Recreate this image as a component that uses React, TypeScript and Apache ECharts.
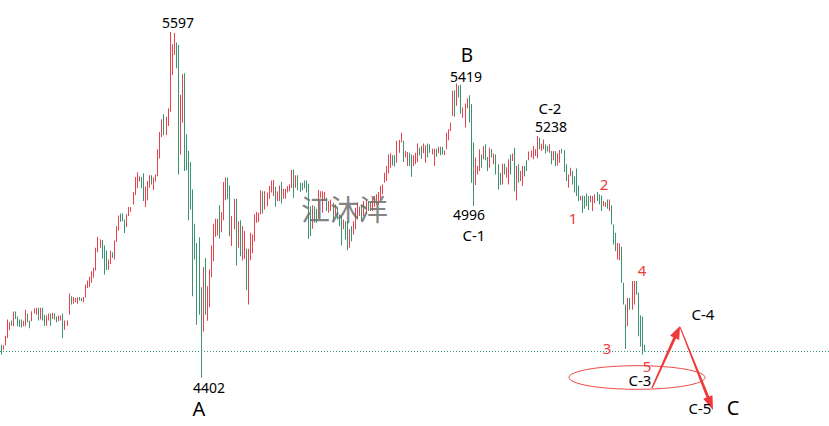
import React, { useEffect, useRef } from 'react';
import * as echarts from 'echarts';

// Bar highs / lows (one entry per bar, left to right)
const highs = [
  4516, 4514, 4547, 4603, 4594, 4600, 4631, 4631, 4614, 4603, 4603, 4599, 4637, 4624, 4600, 4632, 4641, 4643, 4644, 4644,
  4644, 4620, 4617, 4624, 4624, 4627, 4624, 4614, 4617, 4617, 4624, 4600, 4600, 4693, 4684, 4681, 4678, 4680, 4681, 4678,
  4681, 4724, 4738, 4751, 4770, 4782, 4851, 4889, 4880, 4878, 4859, 4842, 4811, 4841, 4836, 4876, 4926, 4963, 4970, 4970,
  4949, 4967, 4992, 4992, 5044, 5096, 5112, 5099, 5096, 5109, 5062, 5082, 5102, 5102, 5094, 5105, 5192, 5252, 5296, 5313,
  5304, 5334, 5597, 5555, 5594, 5561, 5552, 5380, 5451, 5455, 5244, 5186, 5148, 5053, 4934, 4868, 4888, 4715, 4784, 4816,
  4718, 4776, 4859, 4934, 4952, 4952, 4998, 4975, 5079, 5094, 5094, 5067, 4961, 5021, 5021, 4943, 4946, 4926, 4909, 4848,
  4848, 4903, 4897, 4967, 4975, 4972, 5050, 5047, 5047, 5042, 5065, 5084, 5086, 5062, 5047, 5067, 5079, 5055, 5055, 5065,
  5071, 5120, 5122, 5102, 5102, 5076, 5076, 5084, 5084, 5073, 4995, 4998, 4995, 4986, 5051, 5047, 5047, 5044, 5024, 5013,
  5018, 5007, 5001, 4990, 4966, 4961, 4949, 4943, 4943, 4915, 4926, 4943, 4990, 5009, 4993, 4998, 5013, 5018, 5013, 5007,
  5024, 5030, 5036, 5044, 5065, 5070, 5111, 5134, 5174, 5178, 5171, 5171, 5221, 5224, 5249, 5221, 5186, 5182, 5180, 5174,
  5171, 5180, 5212, 5197, 5203, 5212, 5206, 5212, 5209, 5194, 5194, 5194, 5201, 5201, 5201, 5188, 5249, 5261, 5284, 5394,
  5396, 5419, 5412, 5415, 5336, 5350, 5368, 5379, 5348, 5215, 5163, 5134, 5192, 5174, 5203, 5209, 5165, 5197, 5192, 5177,
  5174, 5140, 5111, 5142, 5142, 5130, 5157, 5174, 5177, 5197, 5134, 5140, 5117, 5134, 5134, 5154, 5184, 5188, 5203, 5192,
  5238, 5232, 5211, 5226, 5209, 5203, 5209, 5186, 5186, 5186, 5178, 5189, 5194, 5189, 5140, 5105, 5128, 5117, 5099, 5125,
  5067, 5030, 5032, 5030, 5039, 5030, 5032, 5030, 5036, 5044, 5036, 5032, 5013, 5009, 5018, 5018, 4998, 4932, 4903, 4868,
  4866, 4855, 4730, 4655, 4678, 4678, 4736, 4736, 4736, 4697, 4617, 4614, 4516,
];
const lows = [
  4482, 4499, 4513, 4539, 4566, 4582, 4580, 4605, 4580, 4577, 4576, 4580, 4580, 4594, 4573, 4597, 4624, 4620, 4600, 4603,
  4600, 4582, 4582, 4600, 4582, 4605, 4603, 4594, 4597, 4600, 4538, 4568, 4582, 4620, 4655, 4658, 4663, 4658, 4669, 4666,
  4663, 4679, 4712, 4716, 4730, 4748, 4773, 4836, 4851, 4814, 4759, 4774, 4775, 4795, 4816, 4811, 4871, 4911, 4941, 4943,
  4902, 4923, 4961, 4976, 5001, 5034, 5057, 5080, 5057, 5013, 4992, 5016, 5059, 5070, 5051, 5080, 5099, 5160, 5234, 5240,
  5240, 5272, 5322, 5449, 5518, 5472, 5105, 5174, 5284, 5117, 5119, 4946, 4984, 4684, 4811, 4585, 4620, 4402, 4562, 4620,
  4599, 4646, 4749, 4805, 4889, 4894, 4883, 4905, 4946, 5016, 5019, 4891, 4857, 4915, 4790, 4851, 4822, 4807, 4813, 4704,
  4655, 4808, 4832, 4874, 4938, 4940, 4967, 4970, 4984, 4995, 5021, 5042, 5030, 4993, 5013, 5013, 5004, 5021, 5021, 5042,
  5047, 5058, 5024, 5059, 5050, 5045, 5050, 5057, 5042, 4882, 4892, 4917, 4938, 4938, 4953, 5024, 4972, 5013, 4978, 4972,
  4978, 4943, 4961, 4949, 4926, 4859, 4915, 4880, 4843, 4851, 4874, 4897, 4915, 4949, 4961, 4943, 4961, 4970, 4978, 4978,
  4978, 4993, 5001, 5001, 5018, 5036, 5076, 5082, 5108, 5128, 5136, 5132, 5145, 5180, 5215, 5148, 5163, 5134, 5134, 5097,
  5134, 5140, 5148, 5171, 5159, 5178, 5145, 5163, 5180, 5174, 5134, 5166, 5178, 5171, 5174, 5172, 5192, 5223, 5255, 5307,
  5304, 5342, 5371, 5315, 5301, 5267, 5334, 5284, 5076, 4996, 5068, 5105, 5117, 5128, 5157, 5154, 5117, 5128, 5163, 5140,
  5105, 5053, 5068, 5070, 5105, 5094, 5070, 5105, 5151, 5047, 5015, 5076, 5082, 5065, 5099, 5117, 5154, 5163, 5157, 5169,
  5161, 5192, 5186, 5192, 5177, 5184, 5180, 5140, 5154, 5134, 5136, 5145, 5178, 5113, 5082, 5059, 5099, 5070, 5042, 5030,
  5013, 5016, 4972, 4986, 4995, 4982, 5009, 4978, 5005, 5013, 5001, 4978, 4995, 4993, 4986, 4978, 4932, 4863, 4840, 4811,
  4808, 4730, 4655, 4501, 4580, 4637, 4637, 4655, 4689, 4545, 4510, 4482, 4493,
];
// R = up bar (red), G = down bar (green); groups of ten bars
const dirs = [
  'GRRRRGRGGG', 'GRRGGRRRGR', 'GGRRGRGGRR', 'GRRRGRRRGG', 'RRRRRRRRRG',
  'GGRRGRRRGG', 'GRRRRRRRGG', 'RRRGRRRRRG', 'RRRRRGGRRG', 'GGGGGGGGRG',
  'RRRRRRGRRR', 'GGRRGRGRRG', 'RRRRRRRGRR', 'RRRGRRGRRR', 'RRGRGGGGGG',
  'GRGGRRRRGR', 'RGRGGGRGGR', 'GRRRRGRRGR', 'RRRRRRRRRR', 'GGRRRGRRGG',
  'RRRGGRRGGR', 'RGRGGRRRRR', 'GRGGRRRGGG', 'RRRGRGGRGR', 'GGGRGRRGRG',
  'RGRRGGRRRR', 'RGRRGGRGRG', 'RRGGGRRGGG', 'GRGGGGRRRG', 'GGRRGRGGGR',
  'RGGGRGRRGG', 'GGG',
].join('').split('');

const LAST_PRICE = 4495;
const SLOTS = 402;
const Y_MIN = 4235;
const Y_MAX = 5708;

const RED = '#e8434d';
const GREEN = '#3a9470';
const ANNO_RED = '#f03a3a';

const blackLabels: [string, number, number, number][] = [
  ['5597', 178, 22, 14],
  ['4402', 209, 387, 14],
  ['A', 199, 408, 20],
  ['B', 467, 55, 19],
  ['5419', 466, 76, 14],
  ['4996', 469, 214, 14],
  ['C-1', 474, 235, 15],
  ['C-2', 550, 108, 15],
  ['5238', 551, 126, 14],
  ['C-3', 640, 380, 15],
  ['C-4', 703, 314, 15],
  ['C-5', 700, 408, 15],
  ['C', 733, 407, 20],
];
const redLabels: [string, number, number][] = [
  ['1', 573, 218],
  ['2', 604, 184],
  ['3', 607, 348],
  ['4', 642, 270],
  ['5', 647, 366],
];

function arrow(p0: number[], p1: number[], w0: number, w1: number, headLen: number, headHalf: number) {
  const dx = p1[0] - p0[0];
  const dy = p1[1] - p0[1];
  const len = Math.hypot(dx, dy);
  const ux = dx / len, uy = dy / len;
  const nx = -uy, ny = ux;
  const bx = p1[0] - ux * headLen, by = p1[1] - uy * headLen;
  return [
    [p0[0] - nx * w0 / 2, p0[1] - ny * w0 / 2],
    [bx - nx * w1 / 2, by - ny * w1 / 2],
    [bx - nx * headHalf, by - ny * headHalf],
    [p1[0], p1[1]],
    [bx + nx * headHalf, by + ny * headHalf],
    [bx + nx * w1 / 2, by + ny * w1 / 2],
    [p0[0] + nx * w0 / 2, p0[1] + ny * w0 / 2],
  ];
}

export default function App() {
  const ref = useRef<HTMLDivElement>(null);
  useEffect(() => {
    const chart = echarts.init(ref.current!, null, { renderer: 'svg' });
    const data = highs.map((h, i) => [i + 0.5, lows[i], h, dirs[i] === 'R' ? 1 : -1]);
    const font = (s: number) => `${s}px "Noto Sans", "DejaVu Sans", sans-serif`;
    const txt = (text: string, x: number, y: number, size: number, color: string) => ({
      type: 'text', x, y, z: 60,
      style: {
        text, fill: color, font: font(size),
        textAlign: 'center', textVerticalAlign: 'middle', align: 'center', verticalAlign: 'middle',
      },
    });
    const graphics: any[] = [
      {
        type: 'text', x: 344.5, y: 208, z: 55,
        style: {
          text: '江沐洋', fill: 'rgba(110,110,110,0.85)', font: '29px "Noto Sans CJK SC", sans-serif',
          textAlign: 'center', textVerticalAlign: 'middle', align: 'center', verticalAlign: 'middle',
        },
      },
      {
        type: 'ellipse', z: 58,
        shape: { cx: 637, cy: 377.5, rx: 68, ry: 11.8 },
        style: { fill: 'none', stroke: '#f04848', lineWidth: 1 },
      },
      {
        type: 'polygon', z: 59,
        shape: { points: arrow([652, 388], [680, 326], 1.5, 3, 13, 5) },
        style: { fill: ANNO_RED },
      },
      {
        type: 'polygon', z: 59,
        shape: { points: arrow([680, 327], [713, 410], 1, 3, 14, 5) },
        style: { fill: ANNO_RED },
      },
      ...blackLabels.map(([t, x, y, s]) => txt(t, x, y, s, '#000')),
      ...redLabels.map(([t, x, y]) => txt(t, x, y, 15, ANNO_RED)),
    ];
    chart.setOption({
      animation: false,
      grid: { left: 0, right: 0, top: 0, bottom: 0 },
      xAxis: { type: 'value', min: 0, max: SLOTS, show: false },
      yAxis: { type: 'value', min: Y_MIN, max: Y_MAX, show: false, splitLine: { show: false } },
      series: [
        {
          type: 'custom',
          data,
          encode: { x: 0, y: [1, 2] },
          renderItem: (params: any, api: any) => {
            const x = api.value(0);
            const lo = api.value(1);
            const hi = api.value(2);
            const d = api.value(3);
            const top = api.coord([x, hi]);
            const bot = api.coord([x, lo]);
            return {
              type: 'rect',
              shape: { x: Math.floor(top[0]), y: top[1], width: 1, height: Math.max(1, bot[1] - top[1]) },
              style: { fill: d > 0 ? RED : GREEN },
            };
          },
          markLine: {
            silent: true,
            symbol: 'none',
            label: { show: false },
            lineStyle: { color: GREEN, type: [1, 2], width: 1 },
            data: [{ yAxis: LAST_PRICE }],
          },
        },
      ],
      graphic: graphics,
    });
    return () => chart.dispose();
  }, []);
  return (
    <div
      ref={ref}
      style={{ position: 'fixed', left: 0, top: 0, width: 829, height: 426, background: '#fff' }}
    />
  );
}
